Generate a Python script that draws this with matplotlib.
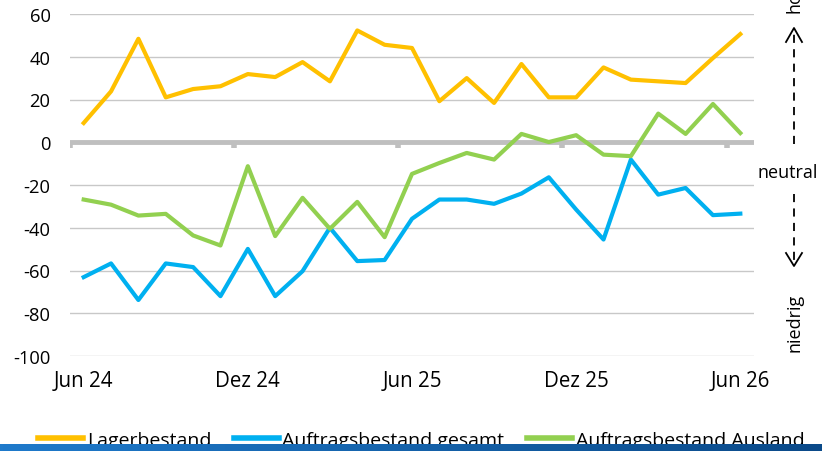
import matplotlib
matplotlib.use("Agg")
import matplotlib.pyplot as plt
import numpy as np
from matplotlib.lines import Line2D
import matplotlib.transforms as mtransforms
from matplotlib.colors import LinearSegmentedColormap

months = ["Jun 24", "Jul 24", "Aug 24", "Sep 24", "Okt 24", "Nov 24", "Dez 24",
          "Jan 25", "Feb 25", "Mär 25", "Apr 25", "Mai 25", "Jun 25", "Jul 25",
          "Aug 25", "Sep 25", "Okt 25", "Nov 25", "Dez 25", "Jan 26", "Feb 26",
          "Mär 26", "Apr 26", "Mai 26", "Jun 26"]
lagerbestand = [9.0, 23.8, 48.4, 21.0, 24.9, 26.2, 31.9, 30.5, 37.5, 28.5, 52.3, 45.6,
                44.1, 19.2, 30.0, 18.4, 36.6, 21.0, 21.0, 35.0, 29.3, 28.5, 27.7, 39.4, 50.6]
auftrag_gesamt = [-63.1, -56.7, -73.8, -56.7, -58.4, -72.0, -49.9, -72.0, -60.3, -40.0,
                  -55.6, -55.1, -35.8, -26.8, -26.8, -28.8, -24.0, -16.4, -31.5, -45.5,
                  -8.1, -24.5, -21.4, -34.1, -33.4]
auftrag_ausland = [-26.8, -29.2, -34.3, -33.5, -43.6, -48.3, -11.2, -43.9, -26.0, -40.5,
                   -27.9, -44.4, -14.8, -9.7, -5.0, -8.1, 3.9, 0.1, 3.3, -5.8, -6.5,
                   13.4, 3.9, 17.9, 4.3]
series_names = ["Lagerbestand", "Auftragsbestand gesamt", "Auftragsbestand Ausland"]
label_months = ["Jun 24", "Dez 24", "Jun 25", "Dez 25", "Jun 26"]
yticks = [-100, -80, -60, -40, -20, 0, 20, 40, 60]

C_ORANGE = "#FFC000"
C_BLUE = "#00B0F0"
C_GREEN = "#92D050"
GRID = "#c8c8c8"
ZERO = "#bfbfbf"

FONT = ["Open Sans", "DejaVu Sans"]
LEG_SIZE = 14.0

W, H = 822, 452
fig = plt.figure(figsize=(W / 100, H / 100), dpi=100)
ax = fig.add_axes([70 / W, 1 - 357 / H, (754 - 70) / W, (357 - 15) / H])

x = np.arange(len(months))
ax.set_xlim(-0.5, len(months) - 0.5)
ax.set_ylim(-100, 60)

for v in yticks:
    if v != 0:
        ax.axhline(v, color=GRID, lw=1.0, zorder=1)
ax.axhline(0, color=ZERO, lw=3.5, zorder=2)
bounds = [i - 0.5 for i in range(0, len(months), 6)]
frac0 = (0 - (-100)) / 160.0
trans = mtransforms.blended_transform_factory(ax.transData, ax.transAxes)
ax.vlines(bounds, frac0 - 6 / 342, frac0, transform=trans, color=ZERO, lw=4, zorder=2)

ax.plot(x, lagerbestand, color=C_ORANGE, lw=3, zorder=4)
ax.plot(x, auftrag_gesamt, color=C_BLUE, lw=3, zorder=3)
ax.plot(x, auftrag_ausland, color=C_GREEN, lw=3, zorder=3)

for s in ax.spines.values():
    s.set_visible(False)
ax.set_yticks(yticks)
ax.set_yticklabels([str(v) for v in yticks], family=FONT, fontsize=13.2)
ax.tick_params(axis="y", length=0, pad=14)
pos = [months.index(m) for m in label_months]
ax.set_xticks(pos)
ax.set_xticklabels(label_months, family=FONT, fontsize=14.8)
ax.tick_params(axis="x", length=0, pad=10)

def fx(px):
    return px / W

def fy(py):
    return 1 - py / H

ax_x = 794
fig.text(fx(ax_x), fy(13), "hoch", rotation=90, ha="center", va="bottom",
         family=FONT, fontsize=13)
fig.text(fx(757), fy(173), "neutral", ha="left", va="center", family=FONT, fontsize=13)
fig.text(fx(ax_x), fy(323), "niedrig", rotation=90, ha="center", va="center",
         family=FONT, fontsize=13)

fig.add_artist(Line2D([fx(ax_x), fx(ax_x)], [fy(145), fy(31)], color="black", lw=1.3,
                      linestyle=(0, (4.5, 3.5))))
fig.add_artist(Line2D([fx(ax_x - 8), fx(ax_x), fx(ax_x + 8)], [fy(43), fy(29), fy(43)],
                      color="black", lw=1.3))
fig.add_artist(Line2D([fx(ax_x), fx(ax_x)], [fy(195), fy(265)], color="black", lw=1.3,
                      linestyle=(0, (4.5, 3.5))))
fig.add_artist(Line2D([fx(ax_x - 8), fx(ax_x), fx(ax_x + 8)], [fy(254), fy(267), fy(254)],
                      color="black", lw=1.3))

handles = [Line2D([], [], color=c, lw=4) for c in (C_ORANGE, C_BLUE, C_GREEN)]
leg_fs_px = LEG_SIZE * 100 / 72
leg = fig.legend(handles, series_names, loc="center left", bbox_to_anchor=(fx(38), fy(441)),
                 ncol=3, frameon=False, prop={"family": FONT, "size": LEG_SIZE},
                 handlelength=45 / leg_fs_px, handletextpad=4 / leg_fs_px,
                 columnspacing=22 / leg_fs_px,
                 borderaxespad=0, borderpad=0)

band = fig.add_axes([0, 0, 1, 7 / H], zorder=10)
grad = np.linspace(0, 1, 256).reshape(1, -1)
cmap = LinearSegmentedColormap.from_list("band", ["#1f7acb", "#0b4a89"])
band.imshow(grad, aspect="auto", cmap=cmap, extent=(0, 1, 0, 1))
band.set_axis_off()

fig.savefig("out.png", dpi=100)
